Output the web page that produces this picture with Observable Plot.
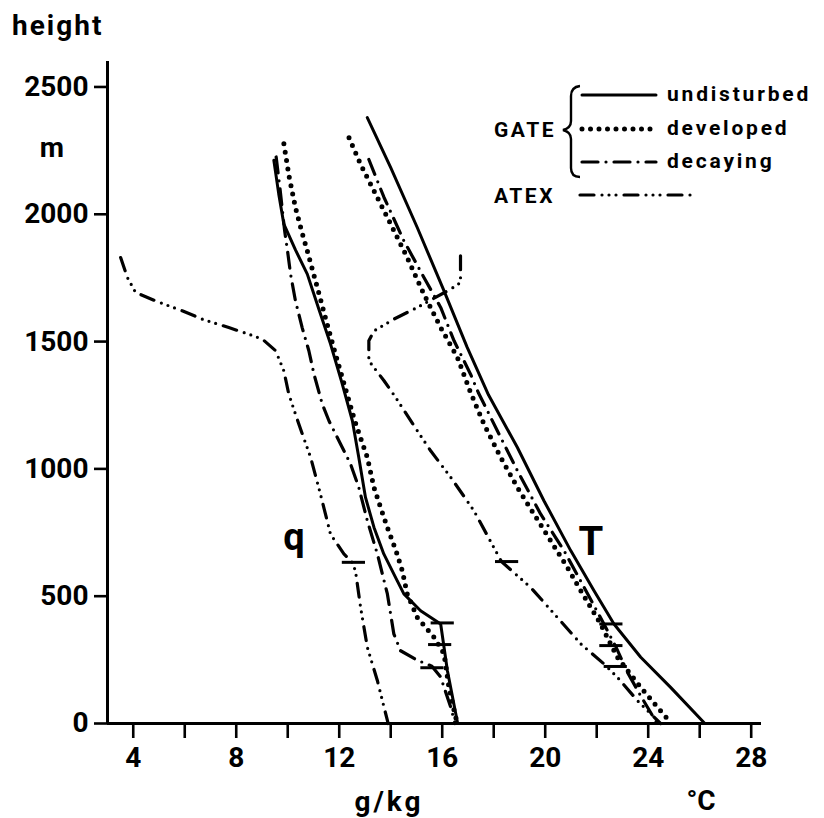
<!DOCTYPE html>
<html>
<head>
<meta charset="utf-8">
<script src="https://cdn.jsdelivr.net/npm/d3@7"></script>
<script src="https://cdn.jsdelivr.net/npm/@observablehq/plot@0.6"></script>
<style>
  html, body { margin: 0; padding: 0; background: #fff; }
  #chart svg { display: block; }
</style>
</head>
<body>
<div id="chart"></div>
<script>
// ---------- data ----------
const yTicks = [0, 500, 1000, 1500, 2000, 2500];
const xTicks = [4, 6, 8, 10, 12, 14, 16, 18, 20, 22, 24, 26, 28];
const xLabelTicks = [4, 8, 12, 16, 20, 24, 28];

const gateNames = ["undisturbed", "developed", "decaying"];
const atexName = "ATEX";
const gateName = "GATE";

// specific humidity q [g/kg] vs height [m]
const qUndisturbed = [[9.46,2212],[9.65,2080],[9.85,1961],[10.3,1860],[10.76,1765],[11.2,1630],[11.66,1491],[12.1,1340],[12.51,1189],[12.76,1045],[13.02,888],[13.35,770],[13.73,666],[14.25,561],[14.51,509],[15.16,443],[15.94,391],[16.2,208],[16.6,0]];
const qDeveloped = [[9.85,2277],[10.05,2150],[10.3,2026],[10.55,1930],[10.76,1856],[11.15,1712],[11.5,1580],[11.8,1470],[12.2,1330],[12.6,1190],[12.9,1100],[13.09,1045],[13.35,927],[13.6,850],[13.87,770],[14.2,680],[14.45,600],[14.64,509],[15.03,417],[15.68,339],[16.07,274],[16.26,142],[16.52,25],[16.62,0]];
const qDecaying = [[9.55,2225],[9.7,2100],[9.88,1935],[10.0,1850],[10.11,1765],[10.3,1660],[10.56,1555],[10.82,1464],[11.02,1372],[11.34,1255],[11.6,1189],[12.05,1098],[12.44,1019],[12.76,927],[13.09,797],[13.48,666],[13.87,509],[14.12,352],[14.38,286],[15.0,250],[15.6,225],[15.94,182],[16.33,64],[16.5,0]];
const qAtex = [[3.51,1830],[3.77,1752],[4.09,1693],[4.86,1660],[5.9,1621],[6.68,1588],[7.71,1555],[8.49,1529],[9.01,1510],[9.53,1464],[9.85,1385],[10.04,1294],[10.43,1176],[10.89,1045],[11.27,901],[11.66,744],[12.18,666],[12.5,633],[12.63,600],[12.83,456],[13.09,300],[13.48,169],[13.87,12],[13.9,0]];

// temperature T [°C] vs height [m]
const tUndisturbed = [[13.09,2380],[14.0,2183],[15.03,1948],[16.07,1699],[16.97,1477],[17.8,1290],[18.92,1084],[19.95,875],[20.99,679],[21.89,522],[22.67,391],[23.71,260],[24.87,142],[26.2,0]];
const tDeveloped = [[12.38,2301],[12.83,2196],[13.35,2092],[14.0,1961],[14.64,1830],[15.29,1686],[15.94,1555],[16.59,1438],[17.1,1300],[17.62,1176],[18.27,1045],[18.92,927],[19.56,823],[20.21,718],[20.86,613],[21.38,522],[22.15,391],[22.8,260],[23.71,142],[24.9,0]];
const tDecaying = [[13.15,2215],[13.74,2066],[14.51,1896],[15.29,1752],[15.94,1634],[16.46,1503],[17.1,1372],[17.4,1300],[18.14,1150],[18.92,993],[19.82,823],[20.73,679],[21.51,535],[22.28,391],[22.75,300],[23.2,200],[23.7,110],[24.35,0]];
const tAtex = [[16.71,1837],[16.71,1732],[16.33,1706],[15.03,1634],[14.12,1588],[13.35,1542],[13.15,1503],[13.15,1425],[13.35,1398],[13.74,1346],[14.19,1281],[14.9,1170],[15.55,1071],[16.33,967],[17.23,836],[18.14,666],[18.3,636],[19.43,535],[20.47,417],[21.38,313],[22.28,234],[22.8,182],[23.58,90],[24.48,0]];

// short horizontal markers on the profiles: [centre value, height]
const markUndisturbed = [[16.0,395],[22.55,391]];
const markDeveloped = [[15.9,310],[22.55,306]];
const markDecaying = [[15.6,219],[22.72,224]];
const markAtex = [[12.55,633],[18.5,636]];

// ---------- styles ----------
const styles = {
  undisturbed: {strokeWidth: 3},
  developed: {strokeWidth: 5, strokeDasharray: "0 8.5"},
  decaying: {strokeWidth: 3.2, strokeDasharray: "16 8 0 8"},
  atex: {strokeWidth: 3.2, strokeDasharray: "14 8 0 7 0 7 0 8"}
};
const FONT = "Roboto, 'DejaVu Sans', sans-serif";

function profile(data, st) {
  return Plot.line(data, {x: d => d[0], y: d => d[1], stroke: "black", strokeLinecap: "round", strokeLinejoin: "round", ...st});
}
function markers(data) {
  return Plot.link(data, {x1: d => d[0] - 0.45, x2: d => d[0] + 0.45, y1: d => d[1], y2: d => d[1], stroke: "black", strokeWidth: 3});
}

const chart = Plot.plot({
  width: 824,
  height: 818,
  marginLeft: 107,
  marginRight: 63,
  marginTop: 61,
  marginBottom: 95,
  x: {domain: [3, 28.4]},
  y: {domain: [0, 2600]},
  style: {fontFamily: FONT, background: "white", color: "black", overflow: "visible"},
  marks: [
    Plot.axisY({ticks: yTicks, tickSize: 13, tickPadding: 6, fontSize: 28, fontWeight: "bold", strokeWidth: 2.6, label: null,
      tickFormat: d => String(d)}),
    Plot.axisX({ticks: xTicks, tickSize: 15, tickPadding: 9, fontSize: 28, fontWeight: "bold", strokeWidth: 2.6, label: null,
      tickFormat: d => xLabelTicks.includes(d) ? String(d) : ""}),
    Plot.ruleX([3], {strokeWidth: 3}),
    Plot.ruleY([0], {strokeWidth: 3}),
    profile(qAtex, styles.atex),
    profile(tAtex, styles.atex),
    profile(qDecaying, styles.decaying),
    profile(tDecaying, styles.decaying),
    profile(qDeveloped, styles.developed),
    profile(tDeveloped, styles.developed),
    profile(qUndisturbed, styles.undisturbed),
    profile(tUndisturbed, styles.undisturbed),
    markers(markUndisturbed),
    markers(markDeveloped),
    markers(markDecaying),
    markers(markAtex)
  ]
});

document.getElementById("chart").appendChild(chart);

// ---------- annotations & legend ----------
const svg = d3.select(chart);
const g = svg.append("g").attr("fill", "black").style("font-family", FONT).style("font-weight", "bold");

function label(text, x, y, size, anchor, spacing) {
  g.append("text").attr("x", x).attr("y", y).attr("font-size", size)
    .attr("text-anchor", anchor || "start")
    .style("letter-spacing", (spacing || 0) + "px")
    .text(text);
}
label("height", 12, 35, 28, "start", 2);
label("m", 52, 157, 28, "middle", 0);
label("q", 294, 550, 38, "middle", 0);
label("T", 591, 555, 40, "middle", 0);
label("g/kg", 389, 811, 28, "middle", 3);
label("°C", 701, 810, 28, "middle", 0);

// legend
const legendRows = [
  {name: gateNames[0], style: styles.undisturbed, y: 95},
  {name: gateNames[1], style: styles.developed, y: 129},
  {name: gateNames[2], style: styles.decaying, y: 162}
];
const lg = svg.append("g").attr("fill", "black").attr("text-anchor", "start")
  .style("font-family", FONT).style("font-weight", "bold");
legendRows.forEach(r => {
  lg.append("line").attr("x1", 582).attr("x2", 656).attr("y1", r.y).attr("y2", r.y)
    .attr("stroke", "black").attr("stroke-linecap", "round")
    .attr("stroke-width", r.style.strokeWidth)
    .attr("stroke-dasharray", r.style.strokeDasharray || null);
  lg.append("text").attr("x", 667).attr("y", r.y + 6).attr("font-size", 21)
    .attr("text-anchor", "start").style("letter-spacing", "2.8px").text(r.name);
});
lg.append("line").attr("x1", 580).attr("x2", 697).attr("y1", 195).attr("y2", 195)
  .attr("stroke", "black").attr("stroke-linecap", "round")
  .attr("stroke-width", styles.atex.strokeWidth)
  .attr("stroke-dasharray", styles.atex.strokeDasharray);
lg.append("text").attr("x", 494).attr("y", 137).attr("font-size", 21).attr("text-anchor", "start")
  .style("letter-spacing", "2.5px").text(gateName);
lg.append("text").attr("x", 494).attr("y", 203).attr("font-size", 21).attr("text-anchor", "start")
  .style("letter-spacing", "2.5px").text(atexName);
// brace
lg.append("path")
  .attr("d", "M580,86 Q571,87 571,96 L571,121 Q571,128 563,130 Q571,132 571,139 L571,168 Q571,177 580,177")
  .attr("fill", "none").attr("stroke", "black").attr("stroke-width", 2.4);
</script>
</body>
</html>
